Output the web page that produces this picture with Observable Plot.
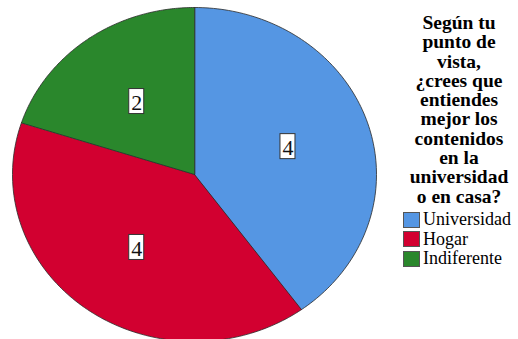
<!DOCTYPE html>
<html>
<head>
<meta charset="utf-8">
<script src="https://cdn.jsdelivr.net/npm/d3@7"></script>
<script src="https://cdn.jsdelivr.net/npm/@observablehq/plot@0.6"></script>
<style>
  html, body { margin: 0; padding: 0; background: #fff; }
  #wrap { position: relative; width: 518px; height: 339px; overflow: hidden; }
  #chart { position: absolute; left: 0; top: 0; }
  #title { position: absolute; left: 398px; top: 13px; width: 122px; text-align: center;
           font-family: "Liberation Serif", Tinos, "Times New Roman", "DejaVu Serif", serif; font-weight: bold;
           font-size: 19.5px; line-height: 19.3px; color: #000; white-space: nowrap; }
  #legend { position: absolute; left: 403px; top: 210px;
            font-family: "Liberation Serif", Tinos, "Times New Roman", "DejaVu Serif", serif; font-size: 18px; color: #000; }
  .row { display: flex; align-items: center; height: 19.5px; white-space: nowrap; }
  .sw { width: 15px; height: 14px; border: 1px solid #555; margin-right: 3px; box-sizing: content-box; }
</style>
</head>
<body>
<div id="wrap">
  <div id="chart"></div>
  <div id="title"></div>
  <div id="legend"></div>
</div>
<script>
const categories = ["Universidad", "Hogar", "Indiferente"];
const values = [4, 4, 2];
const colors = ["#5596E3", "#D20030", "#2A872C"];
const titleLines = ["Según tu", "punto de", "vista,", "¿crees que", "entiendes", "mejor los", "contenidos", "en la", "universidad", "o en casa?"];

const pie = d3.pie().sort(null).startAngle(0).endAngle(2 * Math.PI)(values);

const pts = [];
pie.forEach((s, i) => {
  pts.push({cat: categories[i], x: 0, y: 0});
  const n = 120;
  for (let k = 0; k <= n; k++) {
    const a = s.startAngle + (s.endAngle - s.startAngle) * k / n;
    pts.push({cat: categories[i], x: Math.sin(a), y: Math.cos(a)});
  }
});

const labels = pie.map((s, i) => {
  const a = (s.startAngle + s.endAngle) / 2;
  return {cat: categories[i], v: values[i], x: 0.54 * Math.sin(a), y: 0.54 * Math.cos(a)};
});

const serif = "'Liberation Serif', Tinos, 'Times New Roman', 'DejaVu Serif', serif";

const plot = Plot.plot({
  width: 518,
  height: 339,
  margin: 0,
  x: {domain: [-1, 1], range: [12, 376], axis: null},
  y: {domain: [-1, 1], range: [341, 7], axis: null},
  color: {domain: categories, range: colors},
  style: {background: "transparent"},
  marks: [
    Plot.line(pts, {x: "x", y: "y", z: "cat", fill: "cat", stroke: "#2a2a2a", strokeWidth: 0.8, curve: "linear-closed"}),
    Plot.rect(labels, {x1: "x", x2: "x", y1: "y", y2: "y",
      insetLeft: -7.5, insetRight: -7.5, insetTop: -12.5, insetBottom: -12.5,
      fill: "white", stroke: "#333", strokeWidth: 1}),
    Plot.text(labels, {x: "x", y: "y", text: d => String(d.v), fontSize: 22,
      fontFamily: serif, fill: "#111", dy: 1})
  ]
});
document.getElementById("chart").appendChild(plot);

document.getElementById("title").innerHTML = titleLines.join("<br>");
const leg = d3.select("#legend");
categories.forEach((c, i) => {
  const r = leg.append("div").attr("class", "row");
  r.append("div").attr("class", "sw").style("background", colors[i]);
  r.append("span").text(c);
});
</script>
</body>
</html>
